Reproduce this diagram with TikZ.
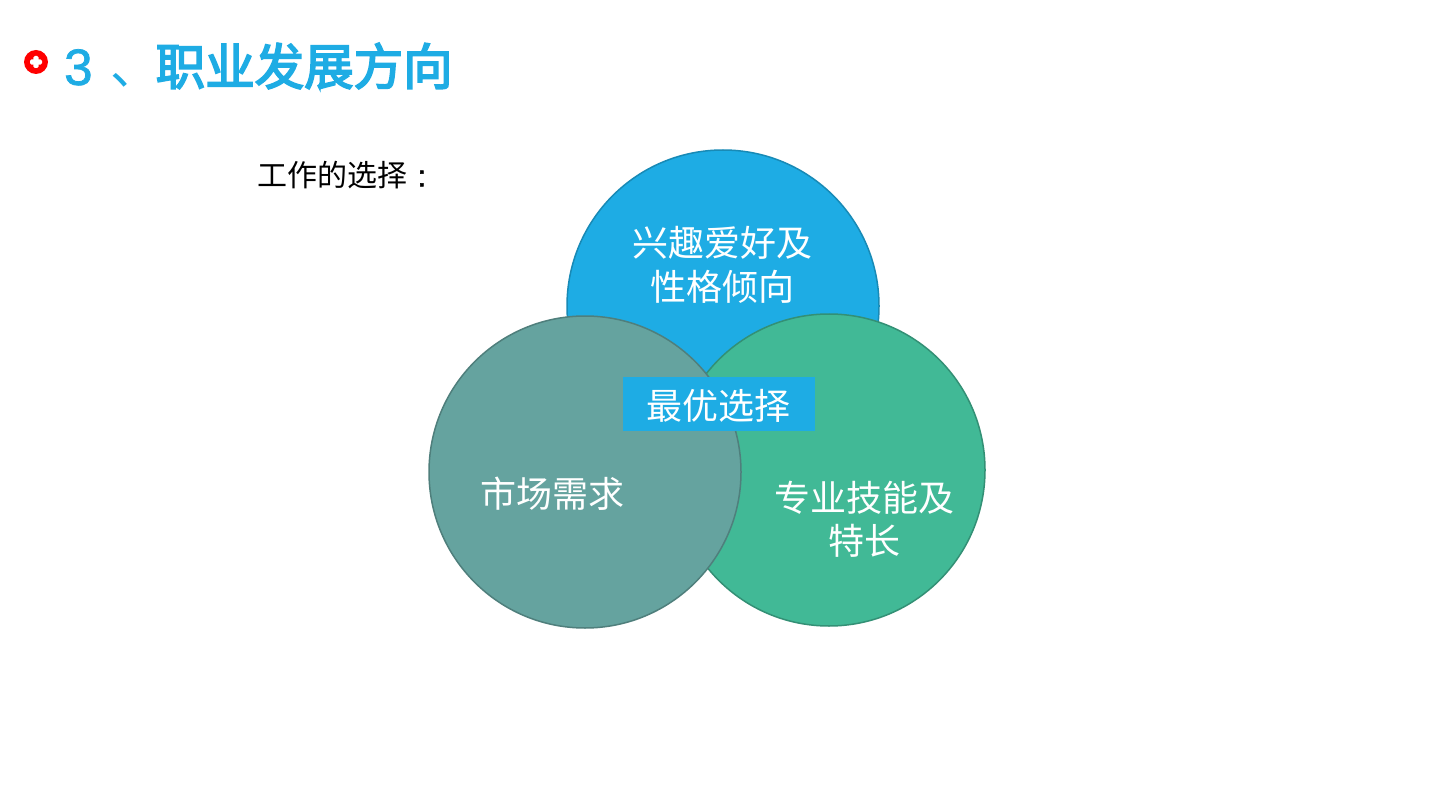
\documentclass[tikz,border=0pt]{standalone}
\usepackage{fontspec}
\setmainfont{Liberation Sans}
\newfontfamily\cjk{Noto Sans CJK SC}
\newfontfamily\cjkt[FakeBold=3.5]{Noto Sans CJK SC}
\newfontfamily\lat[FakeBold=1.5]{Liberation Sans}
\definecolor{cblue}{HTML}{1EACE4}
\definecolor{cgreen}{HTML}{41B996}
\definecolor{cgrey}{HTML}{65A39F}
\tikzset{
  venn/.style={circle,minimum size=312pt,inner sep=0pt,line width=1.5pt},
  lbl/.style={text=white,align=center,font=\fontsize{36}{43.5}\selectfont\cjk,inner sep=0pt},
}
\begin{document}
\begin{tikzpicture}[x=1pt,y=-1pt]
\useasboundingbox (0,0) rectangle (1440,810);
\fill[white] (0,0) rectangle (1440,810);
\node[venn,fill=cblue,draw=cblue!80!black] (top) at (723,306) {};
\node[venn,fill=cgreen,draw=cgreen!78!black] (right) at (829,470) {};
\node[venn,fill=cgrey,draw=cgrey!78!black] (left) at (585,472) {};
\node[fill=cblue,minimum width=192pt,minimum height=54pt,inner sep=0pt] (best) at (719,404) {};
\node[lbl] (besttext) at (718,405.5) {最优选择};
\node[lbl] (toptext) at (722.7,265) {兴趣爱好及\\性格倾向};
\node[lbl] (lefttext) at (552,494) {市场需求};
\node[lbl] (righttext) at (864,519.5) {专业技能及\\特长};
\node[anchor=west,inner sep=0pt,font=\fontsize{30}{36}\selectfont\cjk] (q) at (257.5,175) {工作的选择\hspace{10pt}\lat\fontsize{30}{36}\selectfont:};
\node[anchor=west,inner sep=0pt,text=cblue,font=\fontsize{49.5}{60}\selectfont\cjkt] (title) at (64,66) {\makebox[46pt][l]{\lat\fontsize{51}{60}\selectfont 3}\makebox[45.5pt][l]{\cjk 、}职业发展方向};
\node[circle,fill=red,minimum size=24pt,inner sep=0pt] (bullet) at (36,62) {};
\fill[white,rounded corners=1.5pt] (33.3,56) rectangle (38.7,68);
\fill[white,rounded corners=1.5pt] (30,59.3) rectangle (42,64.7);
\end{tikzpicture}
\end{document}
